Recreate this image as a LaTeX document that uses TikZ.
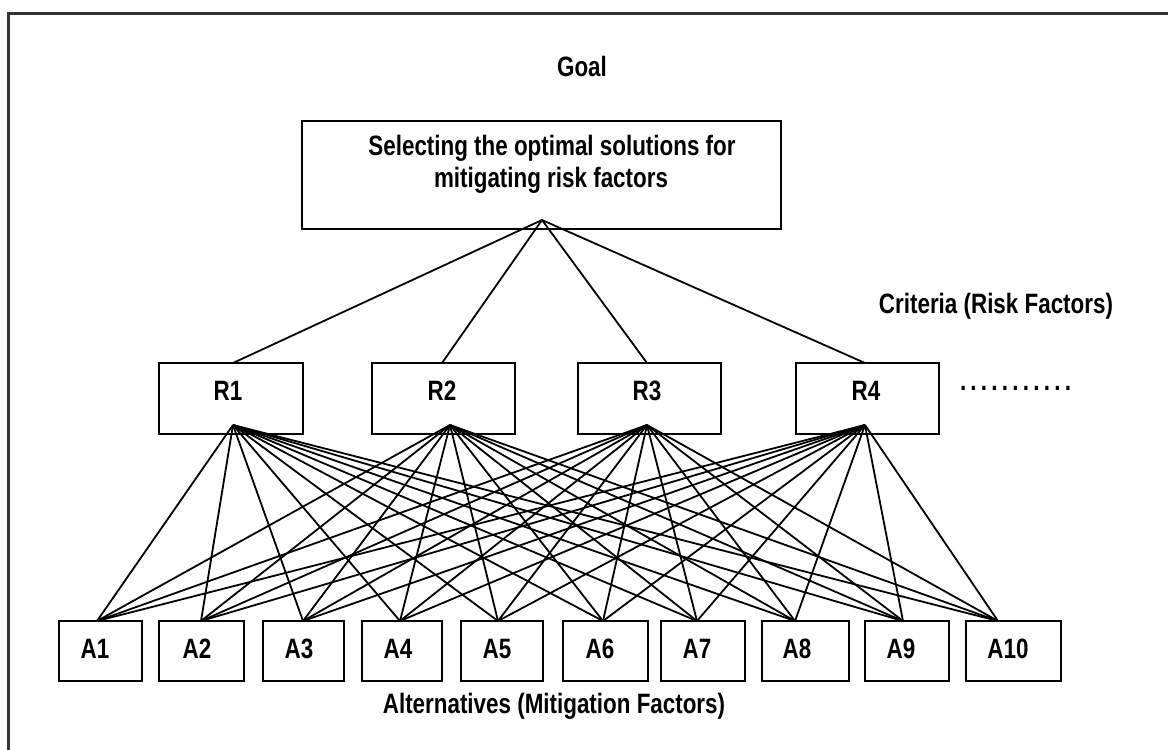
\documentclass[tikz,border=0pt]{standalone}
\usepackage{fontspec}
\setmainfont{Liberation Sans}[FakeStretch=0.80]
\begin{document}
\begin{tikzpicture}[x=1pt,y=-1pt,
  box/.style={draw=black, line width=2pt, inner sep=0pt},
  lbl/.style={font=\fontsize{28}{32}\selectfont\bfseries, inner sep=0pt, anchor=base},
  link/.style={line width=1.8pt, black}]
\useasboundingbox (0,0) rectangle (1168,750);
% outer frame
\draw[line width=3pt, black!80] (8,780) -- (8,13) -- (1200,13);

% goal
\node[lbl] (goallbl) at (582,76) {Goal};
\node[box, minimum width=479, minimum height=108] (goal) at (541.5,175) {};
\node[lbl] (goaltxt1) at (552,155) {Selecting the optimal solutions for};
\node[lbl] (goaltxt2) at (551,187) {mitigating risk factors};
\coordinate (goalbot) at (542,220);

% criteria
\node[lbl] (critlbl) at (996,313) {Criteria (Risk Factors)};
\foreach \i/\l/\r/\tx/\bx/\txt in {1/159/303/233/233/228, 2/372/515/442/450/442, 3/578/721/647/647/647, 4/796/939/865/865/866} {
  \node[box, minimum width={\r-\l}, minimum height=71] (R\i) at ({(\l+\r)/2},398.5) {};
  \node[lbl] (R\i lbl) at (\txt,400) {R\i};
  \coordinate (R\i top) at (\tx,363);
  \coordinate (R\i bot) at (\bx,425);
}
\node[lbl] (rdots) at (1015.5,390) {\hbox to 111pt{.\hfil.\hfil.\hfil.\hfil.\hfil.\hfil.\hfil.\hfil.\hfil.\hfil.}};

% alternatives
\foreach \i/\l/\r/\ax in {1/59/142/95, 2/159/244/197, 3/263/344/299, 4/362/442/398, 5/461/543/497, 6/563/648/600, 7/661/745/697, 8/762/849/797, 9/865/949/901, 10/966/1061/1008} {
  \node[box, minimum width={\r-\l}, minimum height=60] (A\i) at ({(\l+\r)/2},651) {};
  \node[lbl] (A\i lbl) at (\ax,658) {A\i};
}
\foreach \i/\ax in {1/97, 2/201, 3/303, 4/400, 5/498, 6/603, 7/697, 8/795, 9/903, 10/998} {
  \coordinate (A\i top) at (\ax,621);
}
\node[lbl] (altlbl) at (554,713) {Alternatives (Mitigation Factors)};

% connectors
\foreach \i in {1,...,4} {
  \draw[link] (goalbot) -- (R\i top);
  \foreach \j in {1,...,10} {
    \draw[link] (R\i bot) -- (A\j top);
  }
}
\end{tikzpicture}
\end{document}
